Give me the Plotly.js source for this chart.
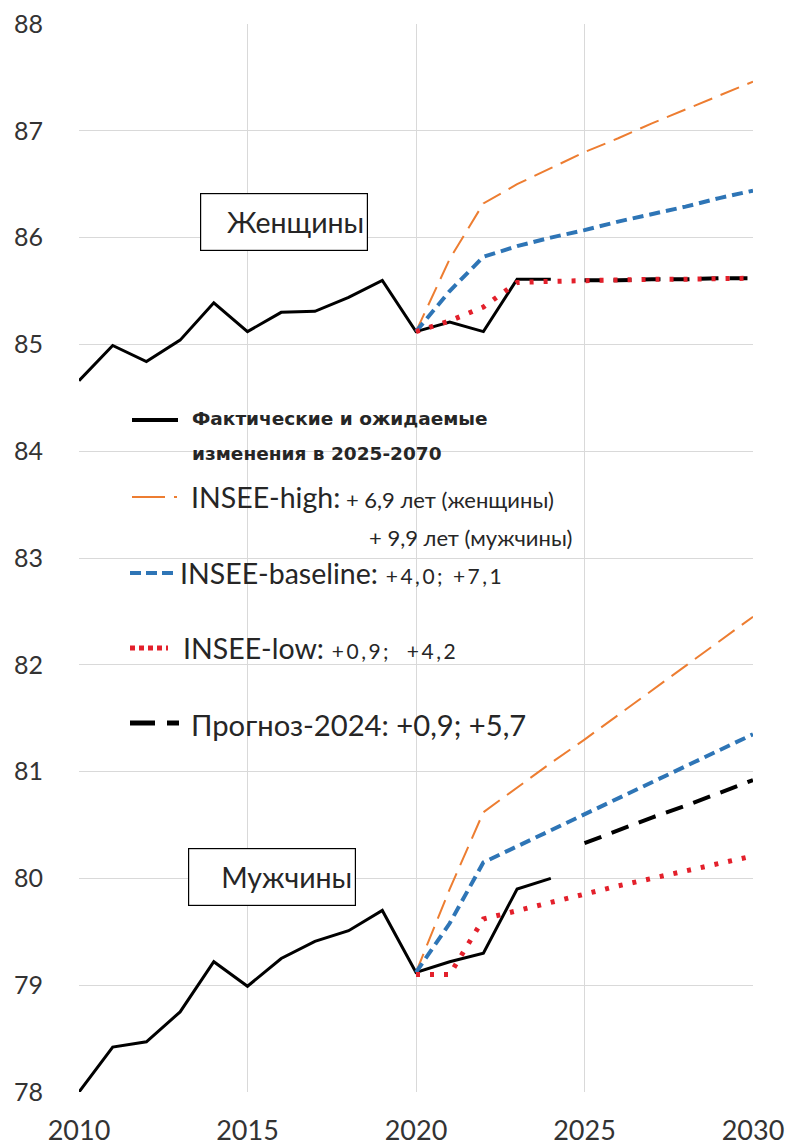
<!DOCTYPE html>
<html>
<head>
<meta charset="utf-8">
<script src="https://cdn.plot.ly/plotly-3.0.1.min.js"></script>
<style>
  html, body { margin: 0; padding: 0; background: #fff; }
  #chart { width: 791px; height: 1148px; }
</style>
</head>
<body>
<div id="chart"></div>
<script>
// ---- Data ----
const yearsActual = [2010, 2011, 2012, 2013, 2014, 2015, 2016, 2017, 2018, 2019, 2020, 2021, 2022, 2023, 2024];
const womenActual = [84.66, 84.99, 84.84, 85.04, 85.39, 85.12, 85.30, 85.31, 85.44, 85.60, 85.12, 85.21, 85.12, 85.61, 85.61];
const menActual   = [78.00, 78.42, 78.47, 78.75, 79.22, 78.99, 79.25, 79.41, 79.51, 79.70, 79.12, 79.22, 79.30, 79.90, 80.00];

const yearsScen = [2020, 2021, 2022, 2023, 2024, 2025, 2026, 2027, 2028, 2029, 2030];
const womenHigh     = [85.12, 85.80, 86.32, 86.50, 86.65, 86.80, 86.93, 87.07, 87.20, 87.33, 87.46];
const menHigh       = [79.12, 79.90, 80.62, 80.85, 81.08, 81.30, 81.53, 81.76, 81.99, 82.22, 82.45];
const womenBaseline = [85.12, 85.50, 85.82, 85.92, 86.00, 86.07, 86.15, 86.22, 86.29, 86.37, 86.44];
const menBaseline   = [79.12, 79.58, 80.15, 80.30, 80.46, 80.61, 80.76, 80.90, 81.05, 81.20, 81.35];
const womenLow      = [85.12, 85.22, 85.35, 85.58, 85.59, 85.60, 85.60, 85.61, 85.61, 85.62, 85.62];
const menLow        = [79.10, 79.10, 79.62, 79.70, 79.78, 79.86, 79.93, 80.00, 80.07, 80.14, 80.21];

const yearsForecast = [2025, 2026, 2027, 2028, 2029, 2030];
const womenForecast = [85.60, 85.60, 85.61, 85.61, 85.62, 85.62];
const menForecast   = [80.33, 80.45, 80.57, 80.68, 80.80, 80.92];

const xTicks = [2010, 2015, 2020, 2025, 2030];
const yTicks = [78, 79, 80, 81, 82, 83, 84, 85, 86, 87, 88];

// ---- Styles ----
const FONT = "Lato, 'Open Sans', 'DejaVu Sans', sans-serif";
const FONT_SMALL = "'DejaVu Sans', 'Noto Sans', sans-serif";
const cActual = '#000000', cHigh = '#ED7D31', cBase = '#2E75B6', cLow = '#E3202B', cFore = '#000000';
const sHigh = {color: cHigh, width: 2, dash: '20px,9px'};
const sBase = {color: cBase, width: 4, dash: '11px,6px'};
const sLow  = {color: cLow, width: 5, dash: '4px,10px'};
const sFore = {color: cFore, width: 4, dash: '18px,11px'};
const sAct  = {color: cActual, width: 3};

function tr(x, y, line) {
  return {x: x, y: y, type: 'scatter', mode: 'lines', line: line, showlegend: false, hoverinfo: 'skip'};
}

const traces = [
  tr(yearsActual, womenActual, sAct),
  tr(yearsActual, menActual, sAct),
  tr(yearsScen, womenHigh, sHigh),
  tr(yearsScen, menHigh, sHigh),
  tr(yearsScen, womenBaseline, sBase),
  tr(yearsScen, menBaseline, sBase),
  tr(yearsForecast, womenForecast, sFore),
  tr(yearsForecast, menForecast, sFore),
  tr(yearsScen, womenLow, sLow),
  tr(yearsScen, menLow, sLow)
];

// ---- Layout helpers (pixel -> paper) ----
const L = 79, R = 753, T = 24, B = 1092;
const px = v => (v - L) / (R - L);
const py = v => 1 - (v - T) / (B - T);

function legLine(x0, x1, y, line) {
  return {type: 'line', xref: 'paper', yref: 'paper', x0: px(x0), x1: px(x1), y0: py(y), y1: py(y), line: line};
}
function txt(x, y, text, size, opts) {
  return Object.assign({xref: 'paper', yref: 'paper', x: px(x), y: py(y), text: text, showarrow: false,
    xanchor: 'left', yanchor: 'middle', font: {family: FONT, size: size, color: '#262626'}}, opts || {});
}
const SMALL = 'font-size:22px';
const SPACED = 'font-size:21px;letter-spacing:2.5px';

const shapes = [
  legLine(132, 178, 420, {color: '#000', width: 4}),
  legLine(132, 165, 497, {color: cHigh, width: 2}),
  legLine(174, 177, 497, {color: cHigh, width: 2}),
  legLine(130, 178, 573, {color: cBase, width: 4, dash: '11px,5px'}),
  legLine(130, 168, 648, {color: cLow, width: 5, dash: '5px,4px'}),
  legLine(130, 155, 723, {color: '#000', width: 5}),
  legLine(167, 179, 723, {color: '#000', width: 5})
];

const annotations = [
  txt(190, 418, '<b>Фактические и ожидаемые</b>', 18.5, {font: {family: FONT_SMALL, size: 18.5, color: '#262626'}}),
  txt(190, 453, '<b>изменения в 2025-2070</b>', 18.5, {font: {family: FONT_SMALL, size: 18.5, color: '#262626'}}),
  txt(189, 497, 'INSEE-high:<span style="' + SMALL + '"> + 6,9 лет (женщины)</span>', 28.5),
  txt(574, 537, '+ 9,9 лет (мужчины)', 22, {xanchor: 'right'}),
  txt(178, 573, 'INSEE-baseline:<span style="' + SPACED + '"> +4,0; +7,1</span>', 28.5),
  txt(181, 648, 'INSEE-low:<span style="' + SPACED + '"> +0,9;  +4,2</span>', 28.5),
  txt(189, 724, 'Прогноз-2024: +0,9; +5,7', 29.2),
  // series labels
  {xref: 'paper', yref: 'paper', x: px(284), y: py(222), text: 'Женщины', showarrow: false,
   xanchor: 'center', yanchor: 'middle', font: {family: FONT, size: 28.5, color: '#262626'},
   bordercolor: '#000', borderwidth: 1.2, bgcolor: '#fff', width: 160, height: 50, align: 'right', borderpad: 3},
  {xref: 'paper', yref: 'paper', x: px(272), y: py(877), text: 'Мужчины', showarrow: false,
   xanchor: 'center', yanchor: 'middle', font: {family: FONT, size: 28.5, color: '#262626'},
   bordercolor: '#000', borderwidth: 1.2, bgcolor: '#fff', width: 160, height: 50, align: 'right', borderpad: 3}
];

const layout = {
  width: 791, height: 1148,
  margin: {l: L, r: 791 - R, t: T, b: 1148 - B},
  paper_bgcolor: '#fff', plot_bgcolor: '#fff',
  showlegend: false,
  font: {family: FONT, color: '#404040'},
  xaxis: {
    range: [2010, 2030], tickvals: xTicks, ticktext: xTicks.map(String),
    showgrid: true, gridcolor: '#d9d9d9', gridwidth: 1, zeroline: false,
    showline: false, ticks: '', ticklabelstandoff: 20,
    tickfont: {family: FONT, size: 27, color: '#333333'}
  },
  yaxis: {
    range: [78, 88], tickvals: yTicks, ticktext: yTicks.map(String),
    showgrid: true, gridcolor: '#d9d9d9', gridwidth: 1, zeroline: false,
    showline: false, ticks: '', ticklabelstandoff: 35,
    tickfont: {family: FONT, size: 25, color: '#333333'}
  },
  shapes: shapes,
  annotations: annotations
};

Plotly.newPlot('chart', traces, layout, {staticPlot: true, displayModeBar: false});
</script>
</body>
</html>
